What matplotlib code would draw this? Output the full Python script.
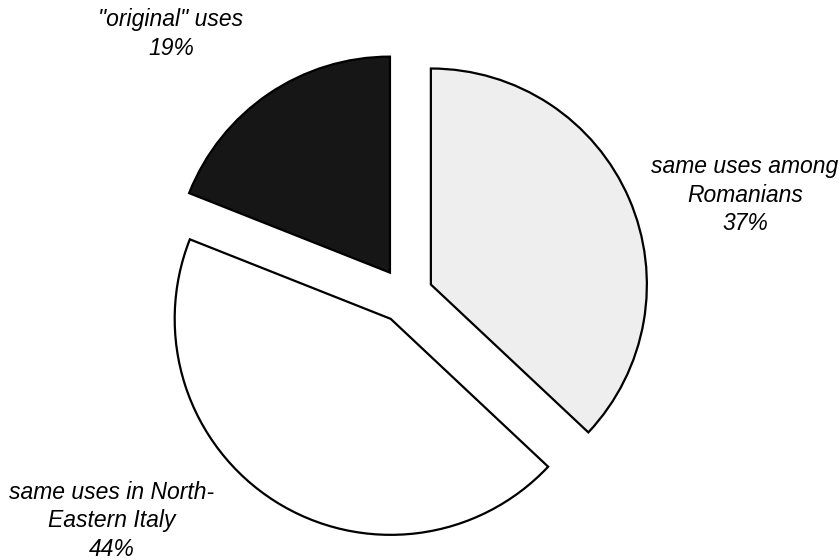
import matplotlib
matplotlib.use("Agg")
import matplotlib.pyplot as plt

labels = ["same uses among\nRomanians", "same uses in North-\nEastern Italy", "\"original\" uses"]
values = [37, 44, 19]
colors = ["#eeeeee", "#ffffff", "#161616"]
explode = [0.128, 0.128, 0.128]

W, H = 840, 560
R = 216.0
cx, cy = 405.5, 295.5

fig = plt.figure(figsize=(8.4, 5.6), dpi=100)
ax = fig.add_axes([0, 0, 1, 1])
wedges, _ = ax.pie(values, colors=colors, explode=explode, startangle=90,
                   counterclock=False, radius=1.0,
                   wedgeprops=dict(edgecolor="black", linewidth=1.6))
ax.set_aspect("equal")
ax.set_xlim(-cx / R, (W - cx) / R)
ax.set_ylim(-(H - cy) / R, cy / R)
ax.axis("off")

def px(x, y):
    return ((x - cx) / R, (cy - y) / R)

font = dict(family="Liberation Sans", style="italic", fontsize=16.5,
            ha="center", va="center", linespacing=1.28)
label_pos = [(745, 195), (112, 521), (171, 34)]
for lab, v, (x, y) in zip(labels, values, label_pos):
    ax.text(*px(x, y), f"{lab}\n{v}%", **font)

fig.savefig("out.png", dpi=100)
